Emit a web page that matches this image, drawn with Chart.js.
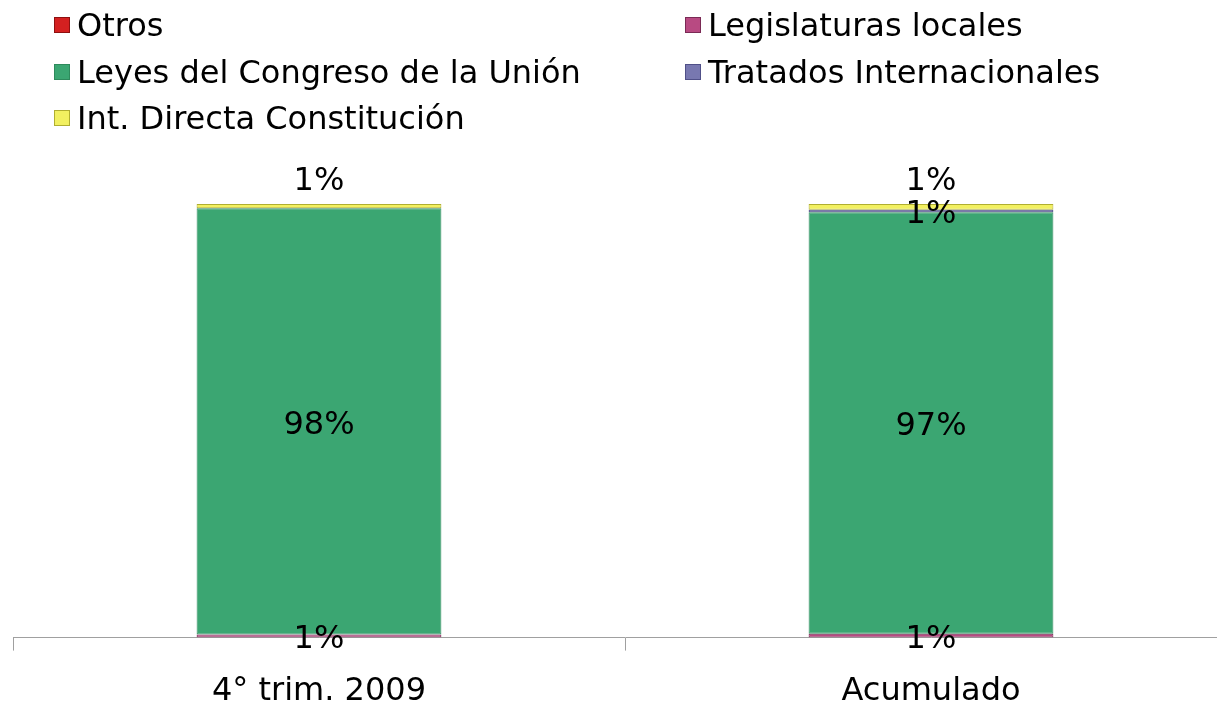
<!DOCTYPE html>
<html>
<head>
<meta charset="utf-8">
<script src="https://cdn.jsdelivr.net/npm/chart.js@4/dist/chart.umd.min.js"></script>
<style>
  html, body { margin: 0; padding: 0; background: #fff; }
  #wrap { position: relative; width: 1217px; height: 705px; overflow: hidden; }
  #c { position: absolute; left: 0; top: 0; }
  .leg { position: absolute; font: 32px "DejaVu Sans", Verdana, sans-serif; color: #000;
         white-space: nowrap; line-height: 36px; height: 36px; }
  .leg i { position: absolute; left: 0; top: 10px; width: 14px; height: 14px; border: 1px solid; }
  .leg span { position: absolute; left: 23px; top: 0; }
</style>
</head>
<body>
<div id="wrap">
  <canvas id="c" width="1240" height="733"></canvas>
  <div id="legend"></div>
</div>
<script>
const d = document;

// datos
const categorias = ["4° trim. 2009", "Acumulado"];
const series = ["Otros", "Legislaturas locales", "Leyes del Congreso de la Unión", "Tratados Internacionales", "Int. Directa Constitución"];
const otros = [0, 0];
const legislaturas = [0.7, 0.9];
const leyes = [98.3, 97.2];
const tratados = [0, 0.6];
const intDirecta = [1.0, 1.3];

const colores = ["#d42020", "#b84a82", "#3ba672", "#7878b0", "#f2f060"];
const bordes = ["#8e1010", "#7a2a55", "#2e8a5c", "#505088", "#b0ae30"];
const valores = [otros, legislaturas, leyes, tratados, intDirecta];

// leyenda en dos columnas
const $legend = d.getElementById("legend");
const colX = [54, 685];
const rowY = [7, 54, 100];
series.forEach((name, i) => {
  const $el = d.createElement("div");
  $el.className = "leg";
  $el.style.left = colX[i % 2] + "px";
  $el.style.top = rowY[Math.floor(i / 2)] + "px";
  $el.innerHTML = `<i style="background:${colores[i]};border-color:${bordes[i]}"></i><span>${name}</span>`;
  $legend.appendChild($el);
});

const etiquetas = {
  id: "etiquetas",
  afterDatasetsDraw(chart) {
    const ctx = chart.ctx;
    ctx.save();
    ctx.font = '32px "DejaVu Sans", Verdana, sans-serif';
    ctx.fillStyle = "#000";
    ctx.textAlign = "center";
    ctx.textBaseline = "middle";
    const last = chart.data.datasets.length - 1;
    chart.data.datasets.forEach((ds, di) => {
      const meta = chart.getDatasetMeta(di);
      meta.data.forEach((bar, i) => {
        const v = ds.data[i];
        if (!v) return;
        const y = di === last ? bar.y - 22 : (bar.y + bar.base) / 2 + 4;
        ctx.fillText(Math.round(v) + "%", bar.x, y);
      });
    });
    ctx.restore();
  },
};

const ctx = d.getElementById("c").getContext("2d");
new Chart(ctx, {
  type: "bar",
  data: {
    labels: categorias,
    datasets: series.map((name, i) => ({
      label: name,
      data: valores[i],
      backgroundColor: colores[i],
      borderColor: bordes[i],
      borderWidth: 1,
      borderSkipped: false,
      barPercentage: 0.4,
      categoryPercentage: 1,
    })),
  },
  options: {
    responsive: false,
    animation: false,
    devicePixelRatio: 1,
    layout: { padding: { top: 204, left: 13, right: 3, bottom: 0 } },
    plugins: { legend: { display: false }, tooltip: { enabled: false } },
    scales: {
      x: {
        stacked: true,
        grid: { offset: true, drawOnChartArea: false, tickLength: 13, color: "#a0a0a0" },
        border: { color: "#a0a0a0" },
        ticks: { color: "#000", padding: 22, font: { family: '"DejaVu Sans", Verdana, sans-serif', size: 32 } },
      },
      y: { stacked: true, display: false, min: 0, max: 100 },
    },
  },
  plugins: [etiquetas],
});
</script>
</body>
</html>
